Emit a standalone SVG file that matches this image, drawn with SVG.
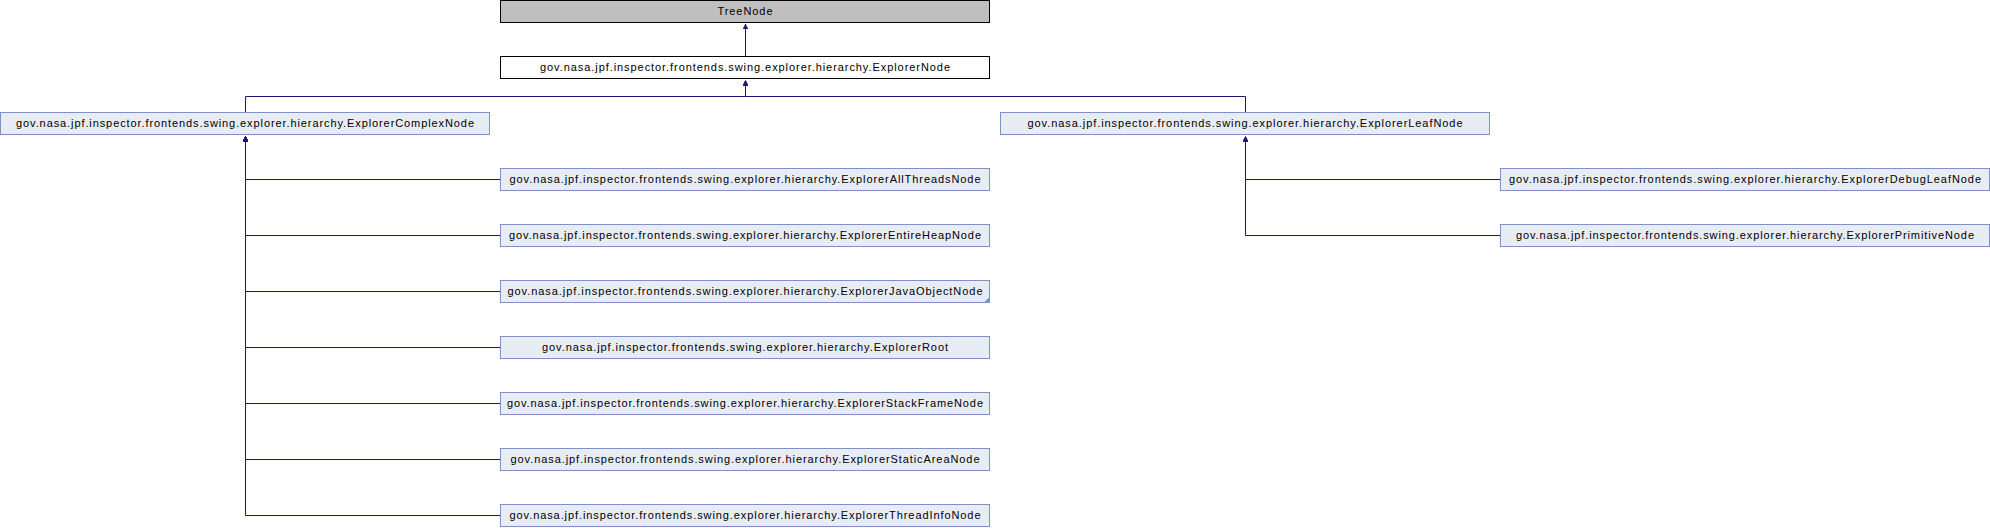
<svg xmlns="http://www.w3.org/2000/svg" width="1990" height="528" viewBox="0 0 1990 528">
<style>
  .bg { fill: #ffffff; }
  .cls rect { fill: #E8ECF4; stroke: #7C92C8; stroke-width: 1; }
  .ext rect { fill: #BFBFBF; stroke: #000000; stroke-width: 1; }
  .doc rect { fill: #ffffff; stroke: #000000; stroke-width: 1; }
  text { font-family: "Liberation Sans", Arial, Helvetica, sans-serif; font-size: 11px; fill: #000000; text-anchor: middle; }
  .edge { fill: none; stroke: #191970; stroke-width: 1; marker-end: url(#arr); }
  .fold { fill: #7C92C8; }
</style>
<defs>
  <marker id="arr" viewBox="0 0 10 10" refX="10" refY="5" markerWidth="5" markerHeight="5" markerUnits="userSpaceOnUse" orient="auto">
    <path d="M0,0 L10,5 L0,10 z" fill="#191970" stroke="#191970" stroke-width="1"/>
  </marker>
</defs>
<rect class="bg" x="0" y="0" width="1990" height="528"/>

<g id="connectors">
  <path class="edge" d="M745.5,56.5 V24"/>
  <path class="edge" d="M245.5,112.5 V96.5 H745.5 V80.5"/>
  <path class="edge" d="M1245.5,112.5 V96.5 H745.5 V80.5"/>
  <path class="edge" d="M500.5,179.5 H245.5 V136.5"/>
  <path class="edge" d="M500.5,235.5 H245.5 V136.5"/>
  <path class="edge" d="M500.5,291.5 H245.5 V136.5"/>
  <path class="edge" d="M500.5,347.5 H245.5 V136.5"/>
  <path class="edge" d="M500.5,403.5 H245.5 V136.5"/>
  <path class="edge" d="M500.5,459.5 H245.5 V136.5"/>
  <path class="edge" d="M500.5,515.5 H245.5 V136.5"/>
  <path class="edge" d="M1500.5,179.5 H1245.5 V136.5"/>
  <path class="edge" d="M1500.5,235.5 H1245.5 V136.5"/>
</g>

<g id="TreeNode" class="ext">
  <rect x="500.5" y="0.5" width="489" height="22"/>
  <text x="745" y="15" textLength="55">TreeNode</text>
</g>
<g id="ExplorerNode" class="doc">
  <rect x="500.5" y="56.5" width="489" height="22"/>
  <text x="745" y="71" textLength="410">gov.nasa.jpf.inspector.frontends.swing.explorer.hierarchy.ExplorerNode</text>
</g>
<g id="ExplorerComplexNode" class="cls">
  <rect x="0.5" y="112.5" width="489" height="22"/>
  <text x="245" y="127" textLength="458">gov.nasa.jpf.inspector.frontends.swing.explorer.hierarchy.ExplorerComplexNode</text>
</g>
<g id="ExplorerLeafNode" class="cls">
  <rect x="1000.5" y="112.5" width="489" height="22"/>
  <text x="1245" y="127" textLength="435">gov.nasa.jpf.inspector.frontends.swing.explorer.hierarchy.ExplorerLeafNode</text>
</g>
<g id="ExplorerDebugLeafNode" class="cls">
  <rect x="1500.5" y="168.5" width="489" height="22"/>
  <text x="1745" y="183" textLength="472">gov.nasa.jpf.inspector.frontends.swing.explorer.hierarchy.ExplorerDebugLeafNode</text>
</g>
<g id="ExplorerPrimitiveNode" class="cls">
  <rect x="1500.5" y="224.5" width="489" height="22"/>
  <text x="1745" y="239" textLength="458">gov.nasa.jpf.inspector.frontends.swing.explorer.hierarchy.ExplorerPrimitiveNode</text>
</g>
<g id="ExplorerAllThreadsNode" class="cls">
  <rect x="500.5" y="168.5" width="489" height="22"/>
  <text x="745" y="183" textLength="471">gov.nasa.jpf.inspector.frontends.swing.explorer.hierarchy.ExplorerAllThreadsNode</text>
</g>
<g id="ExplorerEntireHeapNode" class="cls">
  <rect x="500.5" y="224.5" width="489" height="22"/>
  <text x="745" y="239" textLength="472">gov.nasa.jpf.inspector.frontends.swing.explorer.hierarchy.ExplorerEntireHeapNode</text>
</g>
<g id="ExplorerJavaObjectNode" class="cls">
  <rect x="500.5" y="280.5" width="489" height="22"/>
  <polygon class="fold" points="989.5,297 989.5,302.5 984,302.5"/>
  <text x="745" y="295" textLength="475">gov.nasa.jpf.inspector.frontends.swing.explorer.hierarchy.ExplorerJavaObjectNode</text>
</g>
<g id="ExplorerRoot" class="cls">
  <rect x="500.5" y="336.5" width="489" height="22"/>
  <text x="745" y="351" textLength="406">gov.nasa.jpf.inspector.frontends.swing.explorer.hierarchy.ExplorerRoot</text>
</g>
<g id="ExplorerStackFrameNode" class="cls">
  <rect x="500.5" y="392.5" width="489" height="22"/>
  <text x="745" y="407" textLength="476">gov.nasa.jpf.inspector.frontends.swing.explorer.hierarchy.ExplorerStackFrameNode</text>
</g>
<g id="ExplorerStaticAreaNode" class="cls">
  <rect x="500.5" y="448.5" width="489" height="22"/>
  <text x="745" y="463" textLength="469">gov.nasa.jpf.inspector.frontends.swing.explorer.hierarchy.ExplorerStaticAreaNode</text>
</g>
<g id="ExplorerThreadInfoNode" class="cls">
  <rect x="500.5" y="504.5" width="489" height="22"/>
  <text x="745" y="519" textLength="471">gov.nasa.jpf.inspector.frontends.swing.explorer.hierarchy.ExplorerThreadInfoNode</text>
</g>
</svg>
